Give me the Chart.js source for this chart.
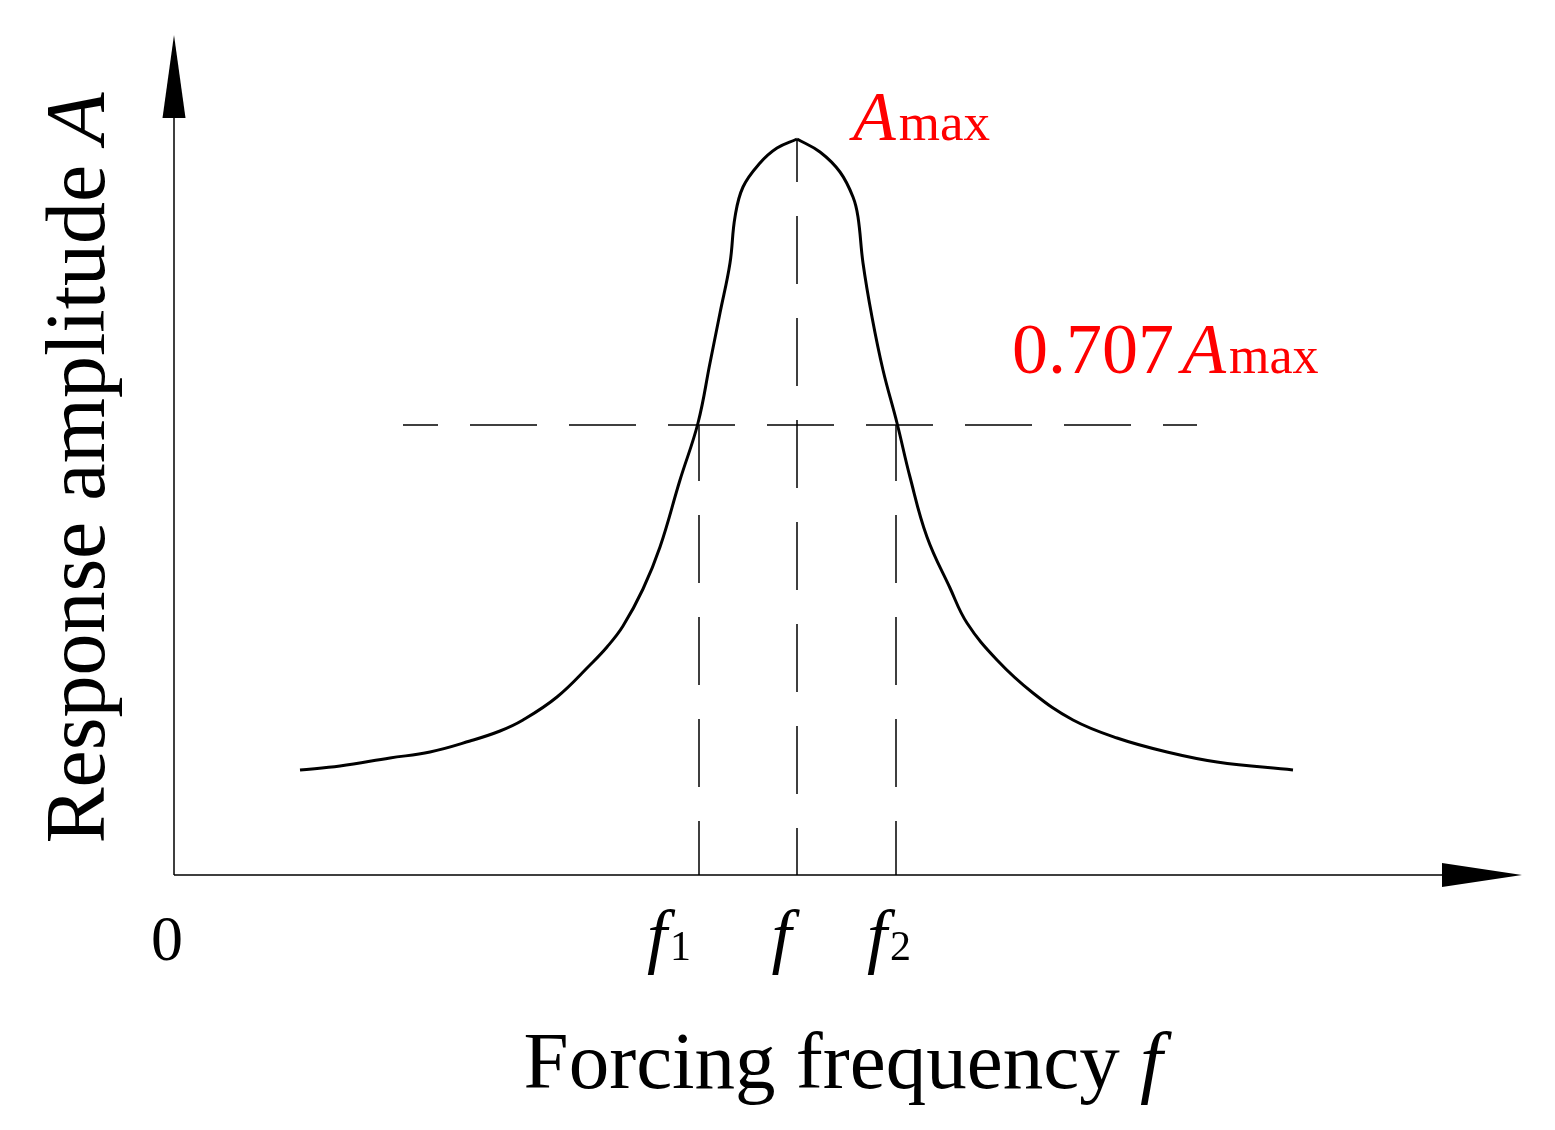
<!DOCTYPE html>
<html>
<head>
<meta charset="utf-8">
<title>Response amplitude vs forcing frequency</title>
<script src="https://cdn.jsdelivr.net/npm/chart.js@4.4.0/dist/chart.umd.min.js"></script>
<style>
  html, body { margin: 0; padding: 0; background: #fff; }
</style>
</head>
<body>
<canvas id="resp" width="1555" height="1130"></canvas>
<script>
// resonance curve (arbitrary units)
var freq = [1.26, 1.66, 2.16, 2.56, 2.96, 3.26, 3.49, 3.83, 4.16, 4.33, 4.49, 4.69, 4.86, 5.06, 5.24, 5.36, 5.46, 5.56, 5.61, 5.69, 5.86, 6.03, 6.23,
            6.46, 6.66, 6.79, 6.84, 6.89, 6.98, 7.09, 7.23, 7.36, 7.53, 7.76, 7.93, 8.23, 8.59, 8.99, 9.43, 9.93, 10.43, 11.19];
var amp  = [1.05, 1.09, 1.17, 1.23, 1.34, 1.44, 1.55, 1.78, 2.10, 2.28, 2.49, 2.86, 3.28, 3.95, 4.52, 5.12, 5.62, 6.12, 6.58, 6.88, 7.12, 7.27, 7.36,
            7.23, 7.03, 6.78, 6.58, 6.12, 5.58, 5.05, 4.52, 3.98, 3.38, 2.87, 2.52, 2.15, 1.82, 1.55, 1.37, 1.23, 1.13, 1.05];

var f1 = 5.25, f0 = 6.23, f2 = 7.22;
var aMax = 7.36;
var halfLevel = 4.5;          // 0.707 Amax line as drawn
var halfLineX = [2.29, 10.23];

var tickValues = [0, f1, f0, f2];
var tickMain = ['0', 'f', 'f', 'f'];
var tickSub = ['', '1', '', '2'];

var xMax = 13.48, yMax = 8.4;

function pts(xs, ys) {
  return xs.map(function (x, i) { return { x: x, y: ys[i] }; });
}

// curve is drawn as two branches meeting at the peak so the tip stays pointed
var curve = pts(freq, amp);
var peakIdx = amp.indexOf(aMax);

// draws a run of text pieces with different fonts, left to right
function drawRuns(ctx, runs, x, y, align) {
  var total = 0;
  runs.forEach(function (r) { ctx.font = r.font; r.w = ctx.measureText(r.text).width; total += r.w + (r.gap || 0); });
  var cx = align === 'center' ? x - total / 2 : x;
  runs.forEach(function (r) {
    ctx.font = r.font;
    ctx.fillText(r.text, cx, y + (r.dy || 0));
    cx += r.w + (r.gap || 0);
  });
}

var SERIF = '"Liberation Serif", "Times New Roman", serif';
var tickNudge = [-7, -30, -14, -7];

var axesPlugin = {
  id: 'axesArrows',
  afterDraw: function (chart) {
    var ctx = chart.ctx;
    var xs = chart.scales.x, ys = chart.scales.y;
    var x0 = xs.getPixelForValue(0), y0 = ys.getPixelForValue(0);
    var xEnd = xs.getPixelForValue(xMax), yEnd = ys.getPixelForValue(yMax);
    ctx.save();
    ctx.strokeStyle = '#000';
    ctx.fillStyle = '#000';
    ctx.lineWidth = 1.5;
    ctx.beginPath();
    ctx.moveTo(x0, y0);
    ctx.lineTo(x0, yEnd + 80);
    ctx.moveTo(x0, y0);
    ctx.lineTo(xEnd - 78, y0);
    ctx.stroke();
    // arrow heads
    ctx.beginPath();
    ctx.moveTo(x0, yEnd);
    ctx.lineTo(x0 - 11.5, yEnd + 83);
    ctx.lineTo(x0 + 11.5, yEnd + 83);
    ctx.closePath();
    ctx.fill();
    ctx.beginPath();
    ctx.moveTo(xEnd, y0);
    ctx.lineTo(xEnd - 80, y0 - 12);
    ctx.lineTo(xEnd - 80, y0 + 12);
    ctx.closePath();
    ctx.fill();

    // tick labels
    ctx.textBaseline = 'alphabetic';
    tickValues.forEach(function (v, i) {
      var px = xs.getPixelForValue(v) + tickNudge[i];
      var runs = [{ text: tickMain[i], font: (i ? 'italic 72px ' : '64px ') + SERIF, gap: i ? 3 : 0 }];
      if (tickSub[i]) runs.push({ text: tickSub[i], font: '42px ' + SERIF, dy: 0 });
      drawRuns(ctx, runs, px, 960, 'center');
    });

    // axis titles
    drawRuns(ctx, [
      { text: 'Forcing frequency ', font: '81px ' + SERIF },
      { text: 'f', font: 'italic 81px ' + SERIF }
    ], 843, 1088, 'center');

    ctx.save();
    ctx.translate(104, 468);
    ctx.rotate(-Math.PI / 2);
    drawRuns(ctx, [
      { text: 'Response amplitude ', font: '84px ' + SERIF },
      { text: 'A', font: 'italic 84px ' + SERIF }
    ], 0, 0, 'center');
    ctx.restore();

    // red annotations
    ctx.fillStyle = '#ff0000';
    drawRuns(ctx, [
      { text: 'A', font: 'italic 70px ' + SERIF, gap: 3 },
      { text: 'max', font: '53px ' + SERIF }
    ], xs.getPixelForValue(f0) + 56, ys.getPixelForValue(aMax) + 1, 'left');
    drawRuns(ctx, [
      { text: '0.707', font: '72px ' + SERIF, gap: 8 },
      { text: 'A', font: 'italic 72px ' + SERIF, gap: 3 },
      { text: 'max', font: '52px ' + SERIF }
    ], 1012, 373, 'left');
    ctx.restore();
  }
};

var curveStyle = { borderColor: '#000', borderWidth: 3, pointRadius: 0, fill: false, tension: 0.4 };
var dashStyle = { borderColor: '#000', borderWidth: 1.5, pointRadius: 0, fill: false, tension: 0 };

new Chart(document.getElementById('resp'), {
  type: 'line',
  data: {
    datasets: [
      Object.assign({ label: 'A', data: curve.slice(0, peakIdx + 1) }, curveStyle),
      Object.assign({ label: 'A', data: curve.slice(peakIdx) }, curveStyle),
      Object.assign({ data: pts(halfLineX, [halfLevel, halfLevel]), borderDash: [67, 32], borderDashOffset: 32 }, dashStyle),
      Object.assign({ data: pts([f0, f0], [aMax, 0]), borderDash: [68, 34], borderDashOffset: 25 }, dashStyle),
      Object.assign({ data: pts([f1, f1], [halfLevel, 0]), borderDash: [68, 34], borderDashOffset: 12 }, dashStyle),
      Object.assign({ data: pts([f2, f2], [halfLevel, 0]), borderDash: [68, 34], borderDashOffset: 12 }, dashStyle)
    ]
  },
  options: {
    responsive: false,
    animation: false,
    layout: { padding: { left: 174, right: 33, top: 35, bottom: 255 } },
    plugins: { legend: { display: false }, tooltip: { enabled: false } },
    scales: {
      x: { type: 'linear', min: 0, max: xMax, display: false },
      y: { type: 'linear', min: 0, max: yMax, display: false }
    }
  },
  plugins: [axesPlugin]
});
</script>
</body>
</html>
